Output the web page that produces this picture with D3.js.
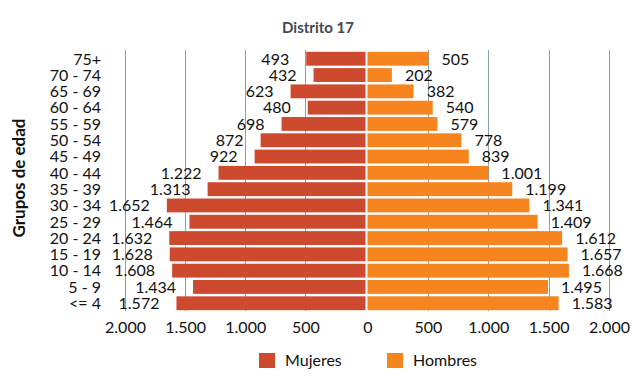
<!DOCTYPE html>
<html>
<head>
<meta charset="utf-8">
<script src="https://cdn.jsdelivr.net/npm/d3@7"></script>
<style>
  html, body { margin: 0; padding: 0; background: #fff; }
  svg { display: block; }
  text { font-family: Lato, "Open Sans", sans-serif; }
</style>
</head>
<body>
<svg id="chart" width="640" height="380"></svg>
<script>
const title = "Distrito 17";
const yTitle = "Grupos de edad";
const categories = ["75+", "70 - 74", "65 - 69", "60 - 64", "55 - 59", "50 - 54", "45 - 49", "40 - 44",
  "35 - 39", "30 - 34", "25 - 29", "20 - 24", "15 - 19", "10 - 14", "5 - 9", "<= 4"];
const mujeres = [493, 432, 623, 480, 698, 872, 922, 1222, 1313, 1652, 1464, 1632, 1628, 1608, 1434, 1572];
const hombres = [505, 202, 382, 540, 579, 778, 839, 1001, 1199, 1341, 1409, 1612, 1657, 1668, 1495, 1583];
const tickValues = [0, 500, 1000, 1500, 2000];
const seriesNames = ["Mujeres", "Hombres"];
const colors = ["#cd4a2f", "#f6841f"];

const fmt = v => d3.format(",")(v).replace(/,/g, ".");

const svg = d3.select("#chart");
const cx = 366.5;
const xL = d3.scaleLinear().domain([0, 2000]).range([cx - 1, 125]);
const xR = d3.scaleLinear().domain([0, 2000]).range([cx + 1, 609]);
const y = d3.scaleBand().domain(categories).range([51, 311]).paddingInner(0.15).paddingOuter(0.05);

// grid lines
const grid = svg.append("g").attr("stroke", "#8d9dab").attr("stroke-width", 1);
tickValues.filter(v => v > 0).forEach(v => {
  [xL(v), xR(v)].forEach(px => {
    grid.append("line").attr("x1", Math.round(px) + 0.5).attr("x2", Math.round(px) + 0.5)
      .attr("y1", 50).attr("y2", 311);
  });
});

// bars
svg.append("g").selectAll("rect").data(categories).join("rect")
  .attr("x", (d, i) => xL(mujeres[i]))
  .attr("width", (d, i) => xL(0) - xL(mujeres[i]))
  .attr("y", d => y(d)).attr("height", y.bandwidth())
  .attr("fill", colors[0]);
svg.append("g").selectAll("rect").data(categories).join("rect")
  .attr("x", xR(0))
  .attr("width", (d, i) => xR(hombres[i]) - xR(0))
  .attr("y", d => y(d)).attr("height", y.bandwidth())
  .attr("fill", colors[1]);

// value labels
svg.append("g").selectAll("text").data(categories).join("text")
  .attr("x", (d, i) => xL(mujeres[i]) - 17)
  .attr("y", d => y(d) + y.bandwidth() / 2)
  .attr("dy", "0.36em").attr("text-anchor", "end")
  .attr("font-size", 16).attr("fill", "#111")
  .text((d, i) => fmt(mujeres[i]));
svg.append("g").selectAll("text").data(categories).join("text")
  .attr("x", (d, i) => xR(hombres[i]) + 13)
  .attr("y", d => y(d) + y.bandwidth() / 2)
  .attr("dy", "0.36em").attr("text-anchor", "start")
  .attr("font-size", 16).attr("fill", "#111")
  .text((d, i) => fmt(hombres[i]));

// category axis
const yAxis = d3.axisLeft(y).tickSize(0).tickPadding(0);
const ya = svg.append("g").attr("transform", "translate(101,0)").call(yAxis);
ya.select(".domain").remove();
ya.selectAll("text").attr("font-size", 16).attr("fill", "#111")
  .attr("font-family", "Lato, 'Open Sans', sans-serif").attr("dy", "0.36em");

// x axes
const axL = d3.axisBottom(xL).tickValues(tickValues.filter(v => v > 0)).tickSize(0).tickPadding(0).tickFormat(fmt);
const axR = d3.axisBottom(xR).tickValues(tickValues).tickSize(0).tickPadding(0).tickFormat(fmt);
[axL, axR].forEach(ax => {
  const g = svg.append("g").attr("transform", "translate(0,320)").call(ax);
  g.select(".domain").remove();
  g.selectAll("text").attr("font-size", 16).attr("fill", "#111")
    .attr("font-family", "Lato, 'Open Sans', sans-serif").attr("dy", "0.8em");
});

// title
svg.append("text").attr("x", 318).attr("y", 33).attr("text-anchor", "middle")
  .attr("font-size", 15).attr("font-weight", "bold").attr("fill", "#434a54").text(title);

// y title
svg.append("text").attr("transform", "translate(25,178) rotate(-90)").attr("text-anchor", "middle")
  .attr("font-size", 17).attr("font-weight", "bold").attr("fill", "#111").text(yTitle);

// legend
const legX = [259, 387];
seriesNames.forEach((name, i) => {
  svg.append("rect").attr("x", legX[i]).attr("y", 353).attr("width", 16).attr("height", 15).attr("fill", colors[i]);
  svg.append("text").attr("x", legX[i] + 26).attr("y", 366).attr("font-size", 16).attr("fill", "#111").text(name);
});
</script>
</body>
</html>
